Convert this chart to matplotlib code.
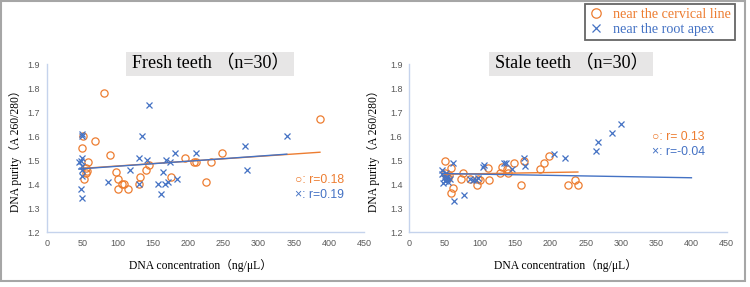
import numpy as np
import matplotlib
matplotlib.use("Agg")
import matplotlib.pyplot as plt
from matplotlib.patches import Rectangle

# Fresh teeth data (DNA concentration ng/uL, DNA purity A260/280)
fresh_cerv_x = [81, 387, 68, 51, 50, 90, 58, 56, 57, 56, 52, 98, 101, 100, 106,
                109, 115, 131, 132, 140, 144, 176, 195, 209, 211, 233, 248, 225]
fresh_cerv_y = [1.78, 1.67, 1.58, 1.60, 1.55, 1.52, 1.49, 1.465, 1.455, 1.445, 1.42,
                1.45, 1.42, 1.38, 1.40, 1.40, 1.38, 1.40, 1.43, 1.46, 1.48, 1.43,
                1.51, 1.49, 1.49, 1.49, 1.53, 1.41]
fresh_root_x = [49, 50, 45, 48, 50, 50, 50, 50, 48, 50, 87, 118, 130, 134, 144,
                142, 130, 157, 162, 164, 168, 172, 169, 175, 182, 185, 211, 281, 284, 340]
fresh_root_y = [1.61, 1.60, 1.49, 1.495, 1.51, 1.475, 1.46, 1.435, 1.38, 1.34, 1.41,
                1.46, 1.51, 1.60, 1.73, 1.50, 1.40, 1.40, 1.36, 1.45, 1.40, 1.41,
                1.50, 1.49, 1.53, 1.42, 1.53, 1.56, 1.46, 1.60]

# Stale teeth data
stale_cerv_x = [50, 51, 53, 55, 59, 56, 62, 59, 76, 74, 86, 98, 100, 96, 112, 113,
                128, 132, 138, 140, 148, 163, 158, 186, 191, 198, 225, 235, 239]
stale_cerv_y = [1.495, 1.445, 1.43, 1.425, 1.465, 1.4375, 1.383, 1.364, 1.445, 1.422,
                1.422, 1.422, 1.415, 1.395, 1.467, 1.415, 1.445, 1.472, 1.464, 1.445,
                1.486, 1.495, 1.395, 1.464, 1.486, 1.517, 1.395, 1.417, 1.395]
stale_root_x = [46, 47, 49, 51, 53, 54, 55, 58, 52, 48, 62, 64, 78, 86, 91, 95, 98,
                104, 106, 134, 137, 145, 162, 164, 205, 221, 265, 267, 288, 300]
stale_root_y = [1.458, 1.44, 1.424, 1.414, 1.42, 1.43, 1.407, 1.42, 1.445, 1.405,
                1.486, 1.328, 1.356, 1.42, 1.417, 1.417, 1.425, 1.472, 1.478, 1.486,
                1.486, 1.464, 1.51, 1.474, 1.526, 1.507, 1.537, 1.575, 1.614, 1.649]

# linear trendlines as shown in the chart: (intercept, slope, forward forecast)
fresh_cerv_trend = (1.455, 0.00020, 0)
fresh_root_trend = (1.453, 0.00021, 0)
stale_cerv_trend = (1.438, 0.00005, 0)
stale_root_trend = (1.446, -0.00005, 100)

titles = ["Fresh teeth （n=30）", "Stale teeth （n=30）"]
r_labels = [("○: r=0.18", "×: r=0.19"), ("○: r= 0.13", "×: r=-0.04")]
legend_labels = ["near the cervical line", "near the root apex"]

orange = "#ED7D31"
blue = "#4472C4"
serif = ["Liberation Serif", "Noto Sans CJK JP"]

W, H = 750, 287
fig = plt.figure(figsize=(W / 100, H / 100), dpi=100)


def trend(ax, xs, params, color):
    b, m, fwd = params
    xl = np.array([min(xs), max(xs) + fwd])
    ax.plot(xl, b + m * xl, color=color, lw=1.0)


panels = [
    (47, fresh_cerv_x, fresh_cerv_y, fresh_root_x, fresh_root_y,
     fresh_cerv_trend, fresh_root_trend, (0.782, 0.31, 0.22), -0.079, 0.483),
    (409.3, stale_cerv_x, stale_cerv_y, stale_root_x, stale_root_y,
     stale_cerv_trend, stale_root_trend, (0.764, 0.567, 0.478), -0.092, 0.492),
]

handles = None
for i, (x0, cx, cy, rx, ry, ct, rt, rpos, ylx, xlx) in enumerate(panels):
    ax = fig.add_axes([x0 / W, 1 - 232 / H, 317.4 / W, 168 / H])
    h1, = ax.plot(cx, cy, "o", ms=5.2, mfc="none", mec=orange, mew=0.9, ls="none")
    h2, = ax.plot(rx, ry, "x", ms=4.8, color=blue, mew=0.9, ls="none")
    handles = [h1, h2]
    trend(ax, cx, ct, orange)
    trend(ax, rx, rt, blue)

    ax.set_xlim(0, 450)
    ax.set_ylim(1.2, 1.9)
    ax.set_xticks(np.arange(0, 451, 50))
    ax.set_yticks(np.arange(1.2, 1.91, 0.1))
    ax.set_yticklabels([f"{v:.1f}" for v in np.arange(1.2, 1.91, 0.1)])
    for s in ["top", "right"]:
        ax.spines[s].set_visible(False)
    for s in ["left", "bottom"]:
        ax.spines[s].set_color("#c5d3ec")
        ax.spines[s].set_linewidth(1.0)
    ax.tick_params(length=0, labelsize=6.5, colors="#595959")
    ax.tick_params(axis="x", pad=5)
    ax.tick_params(axis="y", pad=5)
    for t in ax.get_xticklabels() + ax.get_yticklabels():
        t.set_family("Liberation Sans")

    ax.set_ylabel("DNA purity（A 260/280）", family=serif, fontsize=8.4)
    ax.yaxis.set_label_coords(ylx, 0.5)
    ax.set_xlabel("DNA concentration（ng/μL）", family=serif, fontsize=8.4)
    ax.xaxis.set_label_coords(xlx, -0.16)

    ax.text(rpos[0], rpos[1], r_labels[i][0], transform=ax.transAxes, color=orange,
            fontsize=8.8, va="center", family=["Liberation Sans", "DejaVu Sans"])
    ax.text(rpos[0], rpos[2], r_labels[i][1], transform=ax.transAxes, color=blue,
            fontsize=8.8, va="center", family=["Liberation Sans", "DejaVu Sans"])

# title boxes
for (bx0, bx1, tx), title in zip([(125.7, 294.3, 132.3), (489, 653.3, 495)], titles):
    fig.patches.append(Rectangle((bx0 / W, 1 - 76 / H), (bx1 - bx0) / W, 24.3 / H,
                                 transform=fig.transFigure, facecolor="#e7e6e6",
                                 edgecolor="none"))
    fig.text(tx / W, 1 - 64 / H, title, family=serif, fontsize=13,
             va="center", ha="left", color="#000000")

# legend
leg = fig.legend(handles, legend_labels, loc="upper right",
                 bbox_to_anchor=(735.3 / W, 1 - 4 / H), frameon=True, fancybox=False,
                 prop={"family": "Liberation Serif", "size": 10.2}, handlelength=1.0,
                 handletextpad=0.7, borderpad=0.3, labelspacing=0.1,
                 borderaxespad=0, markerscale=1.3)
leg.get_frame().set_edgecolor("#404040")
leg.get_frame().set_linewidth(1.3)
for t, c in zip(leg.get_texts(), [orange, blue]):
    t.set_color(c)

# outer border
fig.patches.append(Rectangle((1 / W, 1 - 281 / H), 744 / W, 280 / H,
                             transform=fig.transFigure, fill=False,
                             edgecolor="#a6a6a6", linewidth=1.5))

fig.savefig("out.png", dpi=100)
